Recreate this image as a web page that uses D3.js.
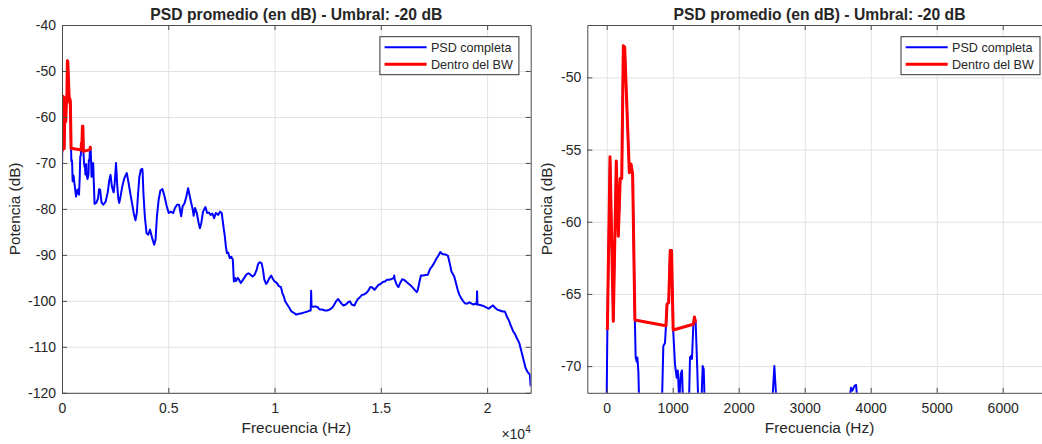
<!DOCTYPE html>
<html><head><meta charset="utf-8">
<script src="https://cdn.jsdelivr.net/npm/d3@7"></script>
<style>
html,body{margin:0;padding:0;background:#fff;overflow:hidden}
svg{display:block}
text{font-family:"Liberation Sans",Arial,Helvetica,sans-serif;fill:#262626}
</style></head><body>
<svg id="chart" width="1042" height="444"></svg>
<script>
// ---- data ----
const freqHz = [0,10,50,100,145,176,205,228,252,272,343,368,393,427,439,455,465,480,500,545,600,660,730,800,835,858,883,898,914,939,962,982,1007,1035,1060,1076,1085,1100,1121,1141,1156,1200,1247,1262,1277,1292,1313,1330,1348,1373,1390,1433,1454,1470,1487,1532,1614,1695,1744,1793,1858,1940,2054,2152,2217,2282,2347,2429,2478,2515,2540,2566,2600,2650,2690,2755,2836,2934,3048,3130,3211,3293,3374,3456,3521,3570,3640,3690,3702,3722,3750,3778,3795,3831,3896,3977,4059,4140,4238,4336,4401,4466,4548,4629,4727,4825,4923,5020,5118,5232,5314,5412,5509,5607,5672,5770,5852,5933,6015,6064,6145,6194,6259,6341,6422,6487,6553,6634,6748,6830,6911,6993,7075,7156,7237,7351,7433,7514,7596,7661,7710,7759,7820,7889,7960,8036,8085,8134,8190,8264,8330,8411,8490,8574,8672,8769,8867,8965,9063,9161,9226,9291,9389,9454,9519,9601,9680,9764,9845,9927,10008,10100,10204,10300,10367,10432,10497,10595,10693,10791,10905,11019,11149,11280,11410,11557,11671,11700,11720,11740,11800,11932,12030,12127,12250,12372,12480,12584,12714,12812,12910,12991,13070,13154,13236,13350,13464,13545,13627,13757,13855,13920,14018,14116,14210,14311,14409,14507,14600,14703,14800,14898,14996,15094,15190,15289,15380,15485,15560,15610,15632,15650,15746,15827,15908,16006,16120,16235,16365,16479,16593,16691,16740,16820,16886,16990,17097,17213,17311,17409,17506,17604,17702,17800,17897,18030,18158,18240,18321,18452,18533,18615,18696,18778,18875,18973,19070,19169,19266,19364,19462,19510,19527,19545,19658,19756,19870,19984,20080,20179,20277,20375,20473,20600,20734,20831,20929,21027,21125,21223,21320,21418,21516,21614,21712,21809,21907,22005,22050];
const psdDb = [-72.0,-67.5,-55.5,-66.9,-55.8,-61.0,-57.0,-57.0,-47.8,-47.9,-56.6,-56.0,-56.7,-66.8,-69.4,-69.7,-69.4,-70.4,-74.0,-72.8,-75.0,-77.3,-75.8,-76.9,-73.0,-68.6,-68.4,-67.2,-65.7,-65.6,-62.0,-62.0,-67.5,-69.9,-70.8,-70.3,-71.0,-72.5,-70.55,-70.3,-72.5,-73.5,-72.5,-69.4,-69.3,-69.5,-67.1,-66.6,-67.0,-70.3,-73.0,-72.8,-70.0,-70.2,-73.0,-78.9,-78.7,-77.7,-75.7,-75.8,-78.6,-79.1,-78.4,-76.4,-74.0,-72.6,-75.1,-76.4,-74.4,-72.0,-70.0,-72.0,-75.0,-77.8,-78.7,-77.3,-75.1,-73.3,-72.2,-74.3,-76.6,-78.7,-80.9,-82.5,-80.9,-77.3,-73.0,-71.9,-71.5,-71.7,-71.4,-71.3,-72.2,-76.6,-81.6,-85.3,-85.6,-84.5,-86.3,-87.8,-86.7,-81.6,-78.0,-76.0,-75.7,-77.3,-79.3,-80.9,-80.6,-80.9,-79.8,-79.1,-79.1,-81.6,-79.5,-78.7,-77.3,-75.5,-77.3,-78.4,-80.0,-81.5,-79.8,-80.9,-82.9,-84.2,-83.1,-80.6,-79.6,-80.9,-80.8,-81.3,-81.0,-82.0,-80.9,-81.3,-80.6,-80.9,-83.8,-86.0,-88.2,-89.6,-89.5,-90.7,-90.4,-91.0,-95.8,-95.0,-95.7,-95.0,-95.4,-96.1,-95.6,-95.0,-94.3,-94.0,-94.3,-94.7,-94.3,-93.2,-92.0,-91.6,-91.8,-93.2,-95.4,-96.3,-95.8,-95.0,-94.5,-95.3,-95.8,-96.1,-96.8,-97.0,-98.3,-99.0,-100.1,-100.8,-101.5,-102.3,-102.6,-103.0,-102.8,-102.7,-102.5,-102.3,-102.1,-102.1,-97.8,-101.2,-101.3,-101.2,-101.4,-101.9,-101.9,-102.1,-102.1,-101.9,-101.5,-100.8,-100.0,-99.6,-100.1,-100.6,-101.0,-100.8,-100.3,-100.1,-100.8,-101.0,-100.1,-99.6,-99.2,-98.7,-98.6,-98.3,-97.8,-97.0,-97.1,-97.6,-97.0,-96.5,-96.3,-95.9,-95.8,-95.4,-95.4,-95.3,-95.1,-95.0,-94.5,-95.3,-96.5,-97.0,-96.1,-95.3,-95.5,-96.0,-96.5,-97.0,-97.6,-98.1,-97.6,-95.8,-94.5,-94.5,-94.4,-94.3,-93.1,-92.5,-91.8,-90.9,-90.2,-89.4,-89.8,-89.9,-90.2,-91.8,-93.6,-94.7,-96.1,-97.6,-98.7,-99.4,-100.1,-100.6,-100.6,-100.3,-100.6,-100.8,-100.6,-100.8,-97.9,-100.8,-100.9,-101.0,-101.2,-101.5,-101.7,-101.3,-101.0,-101.5,-101.9,-102.1,-102.3,-102.3,-103.4,-104.3,-105.5,-106.6,-107.3,-108.3,-109.2,-111.0,-112.8,-114.6,-115.5,-116.0,-118.6];
const bwFreqHz = [10,50,100,145,176,205,228,252,272,343,368,393,427,898,914,939,962,982,1007,1313,1330,1348];
const bwPsdDb  = [-67.5,-55.5,-66.9,-55.8,-61.0,-57.0,-57.0,-47.8,-47.9,-56.6,-56.0,-56.7,-66.8,-67.2,-65.7,-65.6,-62.0,-62.0,-67.5,-67.1,-66.6,-67.0];

const titleText = "PSD promedio (en dB) - Umbral: -20 dB";
const xLabelText = "Frecuencia (Hz)";
const yLabelText = "Potencia (dB)";
const legendLabels = ["PSD completa", "Dentro del BW"];

const leftXDomain = [0, 22050];
const leftYDomain = [-120, -40];
const leftXTicks = [0, 5000, 10000, 15000, 20000];
const leftXTickLabels = ["0", "0.5", "1", "1.5", "2"];
const leftYTicks = [-120, -110, -100, -90, -80, -70, -60, -50, -40];

const rightXDomain = [-294, 6744];
const rightYDomain = [-71.85, -46.37];
const rightXTicks = [0, 1000, 2000, 3000, 4000, 5000, 6000];
const rightYTicks = [-70, -65, -60, -55, -50];

// ---- drawing ----
const svg = d3.select("#chart");
const FONT = '"Liberation Sans",Arial,Helvetica,sans-serif';
const AX = "#4a4a4a", GRID = "#e1e1e1", TXT = "#262626";
const BLUE_W = 2, RED_W = 3;
const full = d3.zip(freqHz, psdDb);
const bw = d3.zip(bwFreqHz, bwPsdDb);

function panel(cfg, id) {
  const {x0, x1, y0, y1} = cfg;
  const x = d3.scaleLinear().domain(cfg.xDomain).range([x0, x1]);
  const y = d3.scaleLinear().domain(cfg.yDomain).range([y1, y0]);
  const W = x1 - x0, H = y1 - y0;
  const g = svg.append("g");

  // grid
  g.append("g").attr("transform", `translate(0,${y1})`)
    .call(d3.axisBottom(x).tickValues(cfg.xTicks).tickSize(-H).tickFormat(""))
    .call(s => { s.select(".domain").remove(); s.selectAll("line").attr("stroke", GRID); });
  g.append("g").attr("transform", `translate(${x0},0)`)
    .call(d3.axisLeft(y).tickValues(cfg.yTicks).tickSize(-W).tickFormat(""))
    .call(s => { s.select(".domain").remove(); s.selectAll("line").attr("stroke", GRID); });

  // clip
  svg.append("clipPath").attr("id", id).append("rect")
    .attr("x", x0).attr("y", y0).attr("width", W).attr("height", H);
  const line = d3.line().x(d => x(d[0])).y(d => y(d[1]));
  const plot = g.append("g").attr("clip-path", `url(#${id})`);
  plot.append("path").datum(full).attr("d", line)
    .attr("fill", "none").attr("stroke", "#0000ff").attr("stroke-width", BLUE_W).attr("stroke-linejoin", "round");
  plot.append("path").datum(bw).attr("d", line)
    .attr("fill", "none").attr("stroke", "#ff0000").attr("stroke-width", RED_W).attr("stroke-linejoin", "round");

  // axes (inward ticks)
  const tl = 5;
  const styleAxis = s => {
    s.select(".domain").attr("stroke", AX);
    s.selectAll(".tick line").attr("stroke", AX);
    s.selectAll("text").attr("fill", TXT).style("font-family", FONT).style("font-size", "14px");
  };
  g.append("g").attr("transform", `translate(0,${y1})`)
    .call(d3.axisBottom(x).tickValues(cfg.xTicks).tickSizeInner(-tl).tickSizeOuter(0).tickPadding(10)
      .tickFormat((d, i) => cfg.xTickLabels[i]))
    .call(styleAxis);
  g.append("g").attr("transform", `translate(0,${y0})`)
    .call(d3.axisTop(x).tickValues(cfg.xTicks).tickSizeInner(-tl).tickSizeOuter(0).tickFormat(""))
    .call(styleAxis);
  g.append("g").attr("transform", `translate(${x0},0)`)
    .call(d3.axisLeft(y).tickValues(cfg.yTicks).tickSizeInner(-tl).tickSizeOuter(0).tickPadding(6)
      .tickFormat(d3.format("d")))
    .call(styleAxis);
  g.append("g").attr("transform", `translate(${x1},0)`)
    .call(d3.axisRight(y).tickValues(cfg.yTicks).tickSizeInner(-tl).tickSizeOuter(0).tickFormat(""))
    .call(styleAxis);
  g.selectAll("text").each(function(){ const t=d3.select(this); t.text(t.text().replace("\u2212","-")); });

  // title and labels
  g.append("text").attr("x", (x0 + x1) / 2).attr("y", 19.5).attr("text-anchor", "middle")
    .style("font-size", "15.7px").style("font-weight", "bold").attr("fill", "#000").text(titleText);
  g.append("text").attr("x", (x0 + x1) / 2).attr("y", 432.5).attr("text-anchor", "middle")
    .style("font-size", "15.4px").text(xLabelText);
  g.append("text").attr("transform", `translate(${cfg.yLabelX},${(y0 + y1) / 2}) rotate(-90)`)
    .attr("text-anchor", "middle").style("font-size", "15.3px").text(yLabelText);

  if (cfg.exponent) {
    const t = g.append("text").attr("x", x1).attr("y", 439).attr("text-anchor", "end").style("font-size", "14px");
    t.append("tspan").text("\u00d710");
    t.append("tspan").attr("dy", -6).style("font-size", "10px").text("4");
  }

  // legend
  const lw = 139, lh = 38;
  const lx = x1 - 11.8 - lw, ly = y0 + 11.7;
  const lg = g.append("g");
  lg.append("rect").attr("x", lx).attr("y", ly).attr("width", lw).attr("height", lh)
    .attr("fill", "#fff").attr("stroke", "#333").attr("stroke-width", 1);
  const rows = [{c: "#0000ff", w: BLUE_W}, {c: "#ff0000", w: RED_W}];
  rows.forEach((r, i) => {
    const cy = ly + 10.6 + i * 17;
    lg.append("line").attr("x1", lx + 4.7).attr("x2", lx + 46.7).attr("y1", cy).attr("y2", cy)
      .attr("stroke", r.c).attr("stroke-width", r.w);
    lg.append("text").attr("x", lx + 51).attr("y", cy + 4.5).style("font-size", "12.6px").text(legendLabels[i]);
  });
}

panel({x0: 62, x1: 530.7, y0: 25, y1: 392.8, xDomain: leftXDomain, yDomain: leftYDomain,
  xTicks: leftXTicks, xTickLabels: leftXTickLabels, yTicks: leftYTicks, yLabelX: 19.5, exponent: true}, "clipL");
panel({x0: 587.3, x1: 1051.8, y0: 25, y1: 392.8, xDomain: rightXDomain, yDomain: rightYDomain,
  xTicks: rightXTicks, xTickLabels: rightXTicks.map(String), yTicks: rightYTicks, yLabelX: 552, exponent: false}, "clipR");
</script>
</body></html>
